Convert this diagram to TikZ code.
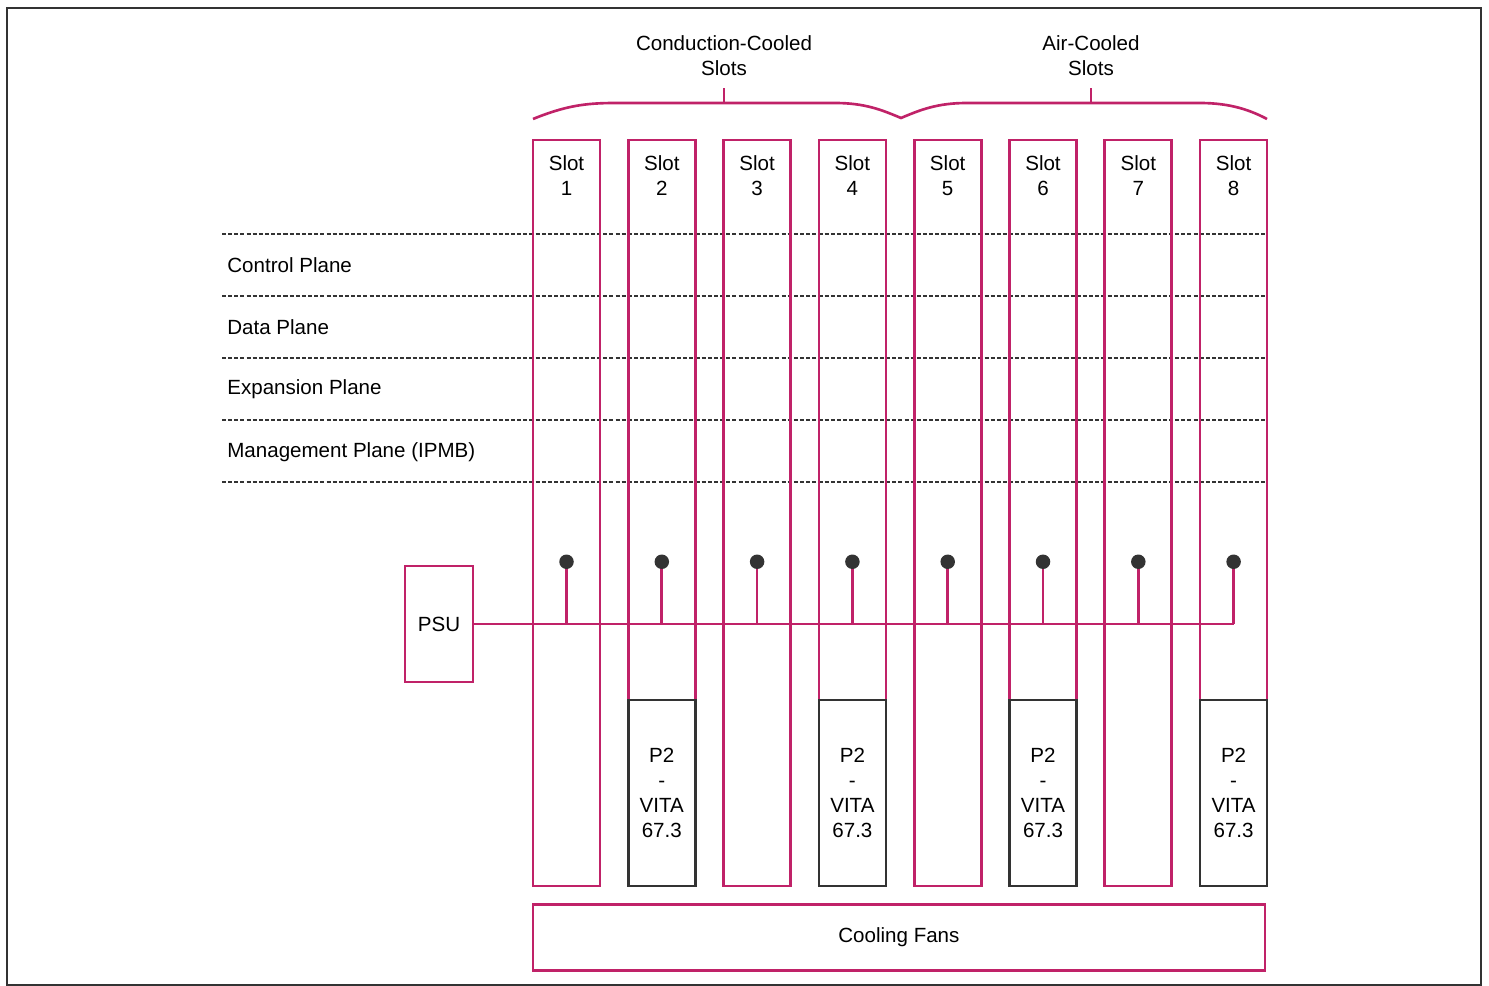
\documentclass[tikz,border=0pt]{standalone}
\usepackage{fontspec}
\setmainfont{Liberation Sans}
\usetikzlibrary{positioning}
\definecolor{plum}{RGB}{192,34,104}
\definecolor{edge}{RGB}{51,51,51}

\begin{document}
\begin{tikzpicture}[x=0.02cm, y=-0.02cm,
        every node/.style={align=center, font=\fontsize{11.7}{14.2}\selectfont, inner sep=0pt},
        slot/.style={draw=plum, line width=1.5pt, minimum width=1.34cm, minimum height=14.92cm},
        p2box/.style={draw=edge, fill=white, line width=1.5pt, minimum width=1.34cm, minimum height=3.72cm},
        psubox/.style={draw=plum, line width=1.5pt, minimum width=1.36cm, minimum height=2.32cm},
        fanbox/.style={draw=plum, line width=1.5pt, minimum width=14.64cm, minimum height=1.32cm},
        plane/.style={draw=edge, line width=1.1pt, dash pattern=on 2.3pt off 1.2pt},
        pw/.style={draw=plum, line width=1.5pt},
        dot/.style={circle, fill=edge, minimum size=0.29cm}
    ]
        \useasboundingbox (0,0) rectangle (1489,986);
        \draw[edge, line width=1.3pt] (7,8) rectangle (1481,985);

        % backplane planes
        \foreach \y in {234,296,358,420,482}
            \draw[plane] (222,\y) -- (1266,\y);
        \node[anchor=west] (ctl) at (227,265) {Control Plane};
        \node[anchor=west] (dat) at (227,327) {Data Plane};
        \node[anchor=west] (exp) at (227,389) {Expansion Plane};
        \node[anchor=west] (mgt) at (227,452) {Management Plane (IPMB)};

        % slots
        \foreach \i in {1,...,8} {
            \node[slot] (s\i) at ({566.5+95.3*(\i-1)},513) {};
            \node (t\i) at ([yshift=-0.74cm]s\i.north) {Slot\\\i};
            \path (s\i.north) ++(0,423) coordinate (d\i);
        }
        \foreach \i in {2,4,6,8}
            \node[p2box, anchor=south] (p\i) at (s\i.south) {P2\\-\\VITA\\67.3};

        % power
        \node[psubox] (psu) at (439,624) {PSU};
        \draw[pw] (psu.east) -- (psu.east -| d8);
        \foreach \i in {1,...,8} {
            \draw[pw] (d\i) -- (d\i |- psu.east);
            \node[dot] (dt\i) at (d\i) {};
        }

        \node[fanbox, anchor=north west] (fans) at ([yshift=-0.32cm]s1.south west) {Cooling Fans};

        % slot groups
        \draw[pw] (533,119) .. controls (565,106) and (585,103) .. (615,103) -- (835,103)
            .. controls (865,103) and (882,110) .. (901,118)
            .. controls (920,110) and (937,103) .. (967,103) -- (1200,103)
            .. controls (1230,103) and (1250,110) .. (1267,119);
        \coordinate (cc) at (724,88);
        \coordinate (ac) at (1091,88);
        \draw[pw] (724,103) -- (cc);
        \draw[pw] (1091,103) -- (ac);
        \node (ccl) at ([yshift=0.65cm]cc) {Conduction-Cooled\\Slots};
        \node (acl) at ([yshift=0.65cm]ac) {Air-Cooled\\Slots};
    \end{tikzpicture}
\end{document}
